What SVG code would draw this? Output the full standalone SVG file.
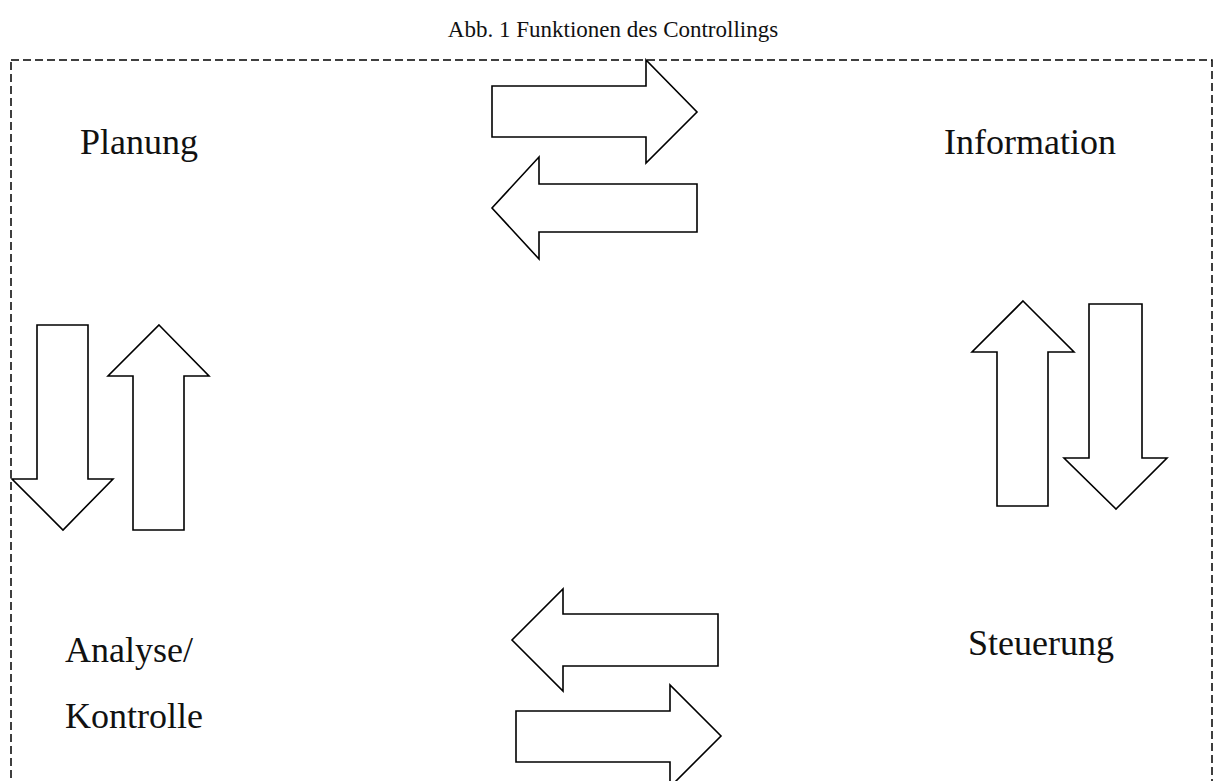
<svg xmlns="http://www.w3.org/2000/svg" width="1220" height="781" viewBox="0 0 1220 781">
<style>
.lbl{font-family:"Liberation Serif","Times New Roman",serif;font-size:36px;fill:#111}
.ttl{font-family:"Liberation Serif","Times New Roman",serif;font-size:23px;fill:#111}
.arr{fill:#fff;stroke:#000;stroke-width:1.6;stroke-linejoin:miter}
.frame{fill:none;stroke:#000;stroke-width:1.5;stroke-dasharray:8 4}
</style>
<rect width="1220" height="781" fill="#fff"/>
<text class="ttl" x="613" y="37" text-anchor="middle">Abb. 1 Funktionen des Controllings</text>
<rect class="frame" x="11" y="60" width="1201" height="760"/>
<g id="connectors">
<polygon id="a1" class="arr" points="492,86 646,86 646,60 697,112 646,163 646,137 492,137"/>
<polygon id="a2" class="arr" points="697,184 539,184 539,157 492,208 539,259 539,232 697,232"/>
<polygon id="a3" class="arr" points="37,325 88,325 88,479 113,479 63,530 12,479 37,479"/>
<polygon id="a4" class="arr" points="159,325 209,376 184,376 184,530 133,530 133,376 108,376"/>
<polygon id="a5" class="arr" points="1023,301 1074,352 1048,352 1048,506 997,506 997,352 972,352"/>
<polygon id="a6" class="arr" points="1089,304 1142,304 1142,458 1167,458 1116,509 1064,458 1089,458"/>
<polygon id="a7" class="arr" points="718,614 563,614 563,589 512,640 563,691 563,666 718,666"/>
<polygon id="a8" class="arr" points="516,711 670,711 670,685 721,736 670,787 670,762 516,762"/>
</g>
<g id="planung"><text class="lbl" x="80" y="154">Planung</text></g>
<g id="information"><text class="lbl" x="944" y="154">Information</text></g>
<g id="analyse"><text class="lbl" x="65" y="662">Analyse/</text><text class="lbl" x="65" y="728">Kontrolle</text></g>
<g id="steuerung"><text class="lbl" x="968" y="655">Steuerung</text></g>
</svg>
